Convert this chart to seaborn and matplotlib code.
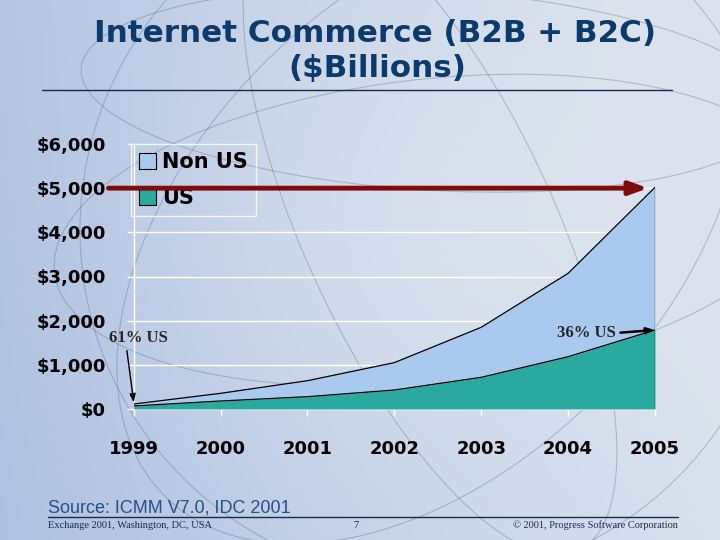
import numpy as np
import pandas as pd
import matplotlib.pyplot as plt
import seaborn as sns
from matplotlib.patches import Patch, Ellipse
from matplotlib.lines import Line2D

# Data ($ billions)
years = [1999, 2000, 2001, 2002, 2003, 2004, 2005]
us = [69, 181, 279, 430, 717, 1184, 1789]
non_us = [44, 174, 362, 620, 1133, 1888, 3230]
y_ticks = [0, 1000, 2000, 3000, 4000, 5000, 6000]
y_labels = ["$0", "$1,000", "$2,000", "$3,000", "$4,000", "$5,000", "$6,000"]
target_level = 5000
share_first = "61% US"
share_last = "36% US"

df = pd.DataFrame({"Year": years, "US": us, "Non US": non_us})
df["Total"] = df["US"] + df["Non US"]

sns.set_theme(style="white")
plt.rcParams["font.family"] = ["DejaVu Sans"]

TEAL = "#2aaa9e"
LIGHT = "#a9caee"
NAVY = "#0c3a6c"

fig = plt.figure(figsize=(7.2, 5.4), dpi=100)

# Slide background: soft blue gradient with faint globe lines
bg = fig.add_axes([0, 0, 1, 1], zorder=-10)
h, w = 540, 720
xx = np.linspace(0, 1, w)[None, :]
yy = np.linspace(0, 1, h)[:, None]
c_left = np.array([0.64, 0.72, 0.87])
c_right = np.array([0.86, 0.89, 0.93])
t = np.clip(0.25 + 0.75 * xx ** 0.9 - 0.12 * (yy - 0.5), 0, 1)
spot = np.exp(-(((xx - 0.55) / 0.35) ** 2 + ((yy - 0.45) / 0.4) ** 2))
t = np.clip(t + 0.2 * spot, 0, 1)
img = c_left[None, None, :] * (1 - t[..., None]) + c_right[None, None, :] * t[..., None]
bg.imshow(img, extent=[0, 1, 0, 1], aspect="auto", origin="upper")
for cx, cy, ew, eh, ang in [(430, 230, 700, 700, 0), (430, 230, 260, 680, 18),
                            (430, 230, 520, 680, -28), (430, 230, 760, 300, 10),
                            (430, 90, 700, 200, -5)]:
    bg.add_patch(Ellipse((cx / 720, 1 - cy / 540), ew / 720, eh / 540, angle=ang,
                         fill=False, ec=(0.3, 0.35, 0.45), lw=0.8, alpha=0.3))
bg.set_xlim(0, 1)
bg.set_ylim(0, 1)
bg.axis("off")

# Main chart area
ax = fig.add_axes([133.7 / 720, 1 - 409 / 540, (655 - 133.7) / 720, 265 / 540])
ax.patch.set_visible(False)

ax.fill_between(df["Year"], 0, df["US"], color=TEAL, lw=0, zorder=2)
ax.fill_between(df["Year"], df["US"], df["Total"], color=LIGHT, lw=0, zorder=2)
sns.lineplot(data=df, x="Year", y="US", color="black", lw=0.9, ax=ax, zorder=3)
sns.lineplot(data=df, x="Year", y="Total", color="black", lw=0.9, ax=ax, zorder=3)
ax.vlines(years[-1], 0, df["Total"].iloc[-1], color="black", lw=0.9, zorder=3)

ax.set_xlim(years[0], years[-1])
ax.set_ylim(y_ticks[0], y_ticks[-1])
ax.set_xticks(years)
ax.set_xticklabels([str(y) for y in years], fontsize=13, fontweight="bold", color="black")
ax.set_yticks(y_ticks)
ax.set_yticklabels(y_labels, fontsize=13, fontweight="bold", color="black")
ax.set_xlabel("")
ax.set_ylabel("")
ax.tick_params(axis="x", length=5, width=1, color="white", pad=17, bottom=True)
ax.tick_params(axis="y", length=5, width=1, color="white", pad=15, left=True)
ax.yaxis.grid(True, color="white", lw=1)
ax.get_ygridlines()[-1].set_visible(False)
ax.set_axisbelow(True)
for side in ["top", "right"]:
    ax.spines[side].set_visible(False)
for side in ["left", "bottom"]:
    ax.spines[side].set_color("white")
    ax.spines[side].set_linewidth(1)
    ax.spines[side].set_zorder(1)

# Legend
handles = [Patch(facecolor=LIGHT, edgecolor="black", lw=0.8, label="Non US"),
           Patch(facecolor=TEAL, edgecolor="black", lw=0.8, label="US")]
leg = ax.legend(handles=handles, loc="upper left", bbox_to_anchor=(-0.005, 1.0),
                prop={"size": 15, "weight": "bold"}, labelcolor="black",
                handlelength=0.8, handleheight=0.8, handletextpad=0.3,
                labelspacing=0.75, borderpad=0.4, borderaxespad=0,
                frameon=True, fancybox=False)
leg.get_frame().set_facecolor("none")
leg.get_frame().set_edgecolor("white")
leg.get_frame().set_linewidth(1)

# Red target arrow at $5,000
ax.annotate("", xy=(years[-1] - 0.08, target_level), xytext=(years[0] - 0.29, target_level),
            arrowprops=dict(arrowstyle="-|>,head_length=0.9,head_width=0.33",
                            color="#7d0c0c", lw=3.5, shrinkA=0, shrinkB=0),
            annotation_clip=False, zorder=6)

# Share annotations
ax.annotate(share_first, xy=(years[0], df["Total"].iloc[0] + 40), xytext=(years[0] + 0.05, 1610),
            ha="center", va="center", fontsize=12, fontweight="bold", family="Liberation Serif",
            arrowprops=dict(arrowstyle="-|>,head_length=0.4,head_width=0.15", color="black",
                            lw=1, relpos=(0.3, 0), shrinkA=1, shrinkB=0),
            annotation_clip=False, zorder=6)
ax.annotate(share_last, xy=(years[-1], us[-1]), xytext=(years[-1] - 0.79, 1720),
            ha="center", va="center", fontsize=12, fontweight="bold", family="Liberation Serif",
            arrowprops=dict(arrowstyle="-|>,head_length=0.4,head_width=0.15", color="black",
                            lw=1.8, relpos=(1, 0.5), shrinkA=1, shrinkB=0),
            zorder=6)

# Title
fig.text(0.521, 1 - 33 / 540, "Internet Commerce (B2B + B2C)", ha="center", va="center",
         fontsize=22.3, fontweight="bold", color=NAVY, family="DejaVu Sans")
fig.text(0.524, 1 - 68 / 540, "($Billions)", ha="center", va="center",
         fontsize=22.3, fontweight="bold", color=NAVY, family="DejaVu Sans")
fig.add_artist(Line2D([42 / 720, 672 / 720], [1 - 90 / 540] * 2, color="#1b2a48", lw=1))

# Footer
fig.text(48 / 720, 1 - 508 / 540, "Source: ICMM V7.0, IDC 2001", ha="left", va="center",
         fontsize=13, color="#2a4f88", family="Liberation Sans")
fig.add_artist(Line2D([48 / 720, 678 / 720], [1 - 517 / 540] * 2, color="#1b2a48", lw=1))
fig.text(48 / 720, 1 - 525 / 540, "Exchange 2001, Washington, DC, USA", ha="left", va="center",
         fontsize=7.5, color="#1b2a50", family="Liberation Serif")
fig.text(356 / 720, 1 - 525 / 540, "7", ha="center", va="center",
         fontsize=7.5, color="#1b2a50", family="Liberation Serif")
fig.text(678 / 720, 1 - 525 / 540, "\u00a9 2001, Progress Software Corporation", ha="right",
         va="center", fontsize=7.5, color="#1b2a50", family="Liberation Serif")

fig.savefig("out.png", dpi=100)
plt.close(fig)
